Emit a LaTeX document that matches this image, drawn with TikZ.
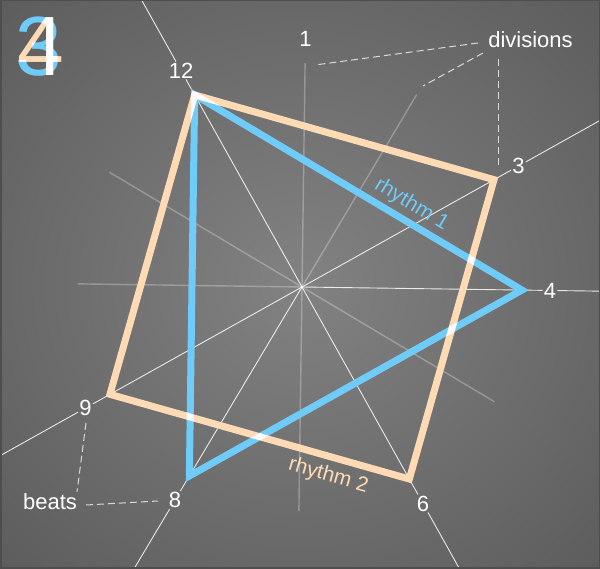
\documentclass[tikz,border=0pt]{standalone}
\usepackage{fontspec}
\setmainfont{Liberation Sans}
\usetikzlibrary{calc}
\definecolor{bginner}{HTML}{828282}
\definecolor{bgouter}{HTML}{5C5C5C}
\definecolor{rblue}{HTML}{6FCBF8}
\definecolor{rpeach}{HTML}{FFDBB5}
\definecolor{palepink}{HTML}{F8EDF4}
\definecolor{framegray}{HTML}{4E4E4E}
\pgfdeclareradialshading{bgshade}{\pgfpoint{0bp}{0bp}}{color(0bp)=(bginner); color(36bp)=(bgouter); color(50bp)=(bgouter)}
\begin{document}
\begin{tikzpicture}[x=1pt,y=1pt,
  beatline/.style={draw=white, line width=0.9pt, opacity=0.85},
  divline/.style={draw=white, line width=1.4pt, opacity=0.28},
  numlab/.style={text=white, font=\fontsize{22}{22}\selectfont, inner sep=1pt},
  wordlab/.style={text=white, font=\fontsize{22}{22}\selectfont, inner sep=2pt},
  rhythmlab/.style={font=\fontsize{21}{21}\selectfont, inner sep=0pt},
  poly/.style={line width=7pt, line join=miter},
  callout/.style={draw=white, opacity=0.75, line width=1pt, dash pattern=on 7pt off 4pt},
  bignum/.style={font=\fontsize{84}{84}\selectfont, inner sep=0pt}]
\useasboundingbox (0,0) rectangle (600,568);
\shade[shading=bgshade] (0,0) rectangle (600,568);
\clip (0,0) rectangle (600,568);
\coordinate (C) at (302,281);
\foreach \k in {1,...,12} {
  \pgfmathsetmacro\ang{89.2-30*(\k-1)}
  \path (C) ++(\ang:220) coordinate (v\k);
  \path (C) ++(\ang:224) coordinate (d\k);
  \path (C) ++(\ang:248) coordinate (l\k);
  \path (C) ++(\ang:520) coordinate (e\k);
}
% number labels
\foreach \k in {1,3,4,6,8,9,12} { \node[numlab] (L\k) at (l\k) {\k}; }
% division lines
\foreach \k in {1,2,5,7,10,11} { \draw[divline] (C) -- (d\k); }
\foreach \k in {3,4,6,8,9,12} { \draw[beatline] (C) -- (L\k); \draw[beatline] (L\k) -- (e\k); }
% rhythms
\begin{scope}[transparency group]
 \begin{scope}[blend mode=screen]
  \draw[poly, rpeach] (v12) -- (v3) -- (v6) -- (v9) -- cycle;
  \draw[poly, rblue] (v12) -- (v4) -- (v8) -- cycle;
  \node[bignum, text=rblue] (n3) at (39,521) {3};
  \node[bignum, text=rpeach] (n4) at (40.5,521) {4};
  \begin{scope}
   \clip (46.5,485) rectangle (55.5,556);
   \node[bignum, text=palepink] at (40.5,521) {4};
  \end{scope}
 \end{scope}
\end{scope}
\node[rhythmlab, text=rblue, rotate=-30.8] (r1) at ($(v12)!0.636!(v4)!17pt!90:(v4)$) {rhythm 1};
\node[rhythmlab, text=rpeach, rotate=-15.8] (r2) at ($(v9)!0.747!(v6)!19pt!-90:(v6)$) {rhythm 2};
% callouts
\node[wordlab] (div) at (530.5,528) {divisions};
\node[wordlab] (beats) at (50,66) {beats};
\coordinate (ca1) at (478,525); \coordinate (ca2) at (315,503);
\coordinate (cb1) at (483,515); \coordinate (cb2) at (423,482);
\coordinate (cc1) at (498,509); \coordinate (cc2) at (498,402);
\coordinate (cd1) at (86,145);  \coordinate (cd2) at (77,76);
\coordinate (ce1) at (86,63);   \coordinate (ce2) at (158,67);
\draw[callout] (ca1) -- (ca2);
\draw[callout] (cb1) -- (cb2);
\draw[callout] (cc1) -- (cc2);
\draw[callout] (cd1) -- (cd2);
\draw[callout] (ce1) -- (ce2);
\draw[framegray, line width=3pt] (0,0) rectangle (600,568);
\end{tikzpicture}
\end{document}
